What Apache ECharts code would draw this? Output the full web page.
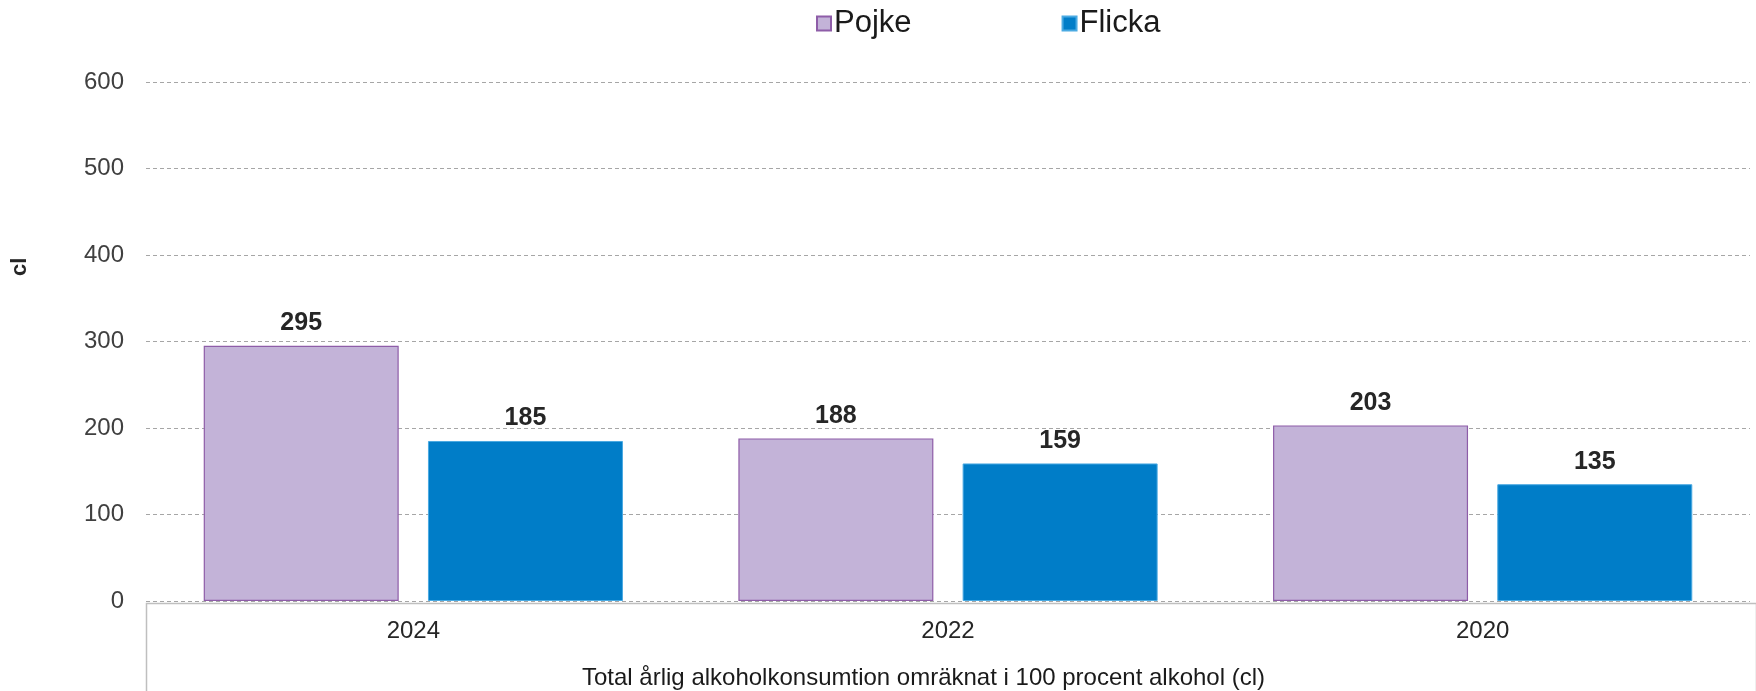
<!DOCTYPE html>
<html>
<head>
<meta charset="utf-8">
<script src="https://cdn.jsdelivr.net/npm/echarts@6/dist/echarts.min.js"></script>
<style>
html, body { margin: 0; padding: 0; background: #fff; }
#chart { width: 1756px; height: 691px; }
</style>
</head>
<body>
<div id="chart"></div>
<script>
var years = ['2024', '2022', '2020'];
var pojke = [295, 188, 203];
var flicka = [185, 159, 135];
var yTicks = [0, 100, 200, 300, 400, 500, 600];

var chartEl = document.getElementById('chart');
var myChart = echarts.init(chartEl);

var gridLeft = 146, gridRight = 6, gridTop = 82, gridBottom = 90;
var font = 'Liberation Sans, Arial, sans-serif';

var option = {
	animation: false,
	textStyle: { fontFamily: font },
	legend: {
		left: 811,
		top: 3,
		icon: 'rect',
		itemWidth: 14,
		itemHeight: 14,
		itemGap: 150,
		textStyle: { fontSize: 31, color: '#1a1a1a', padding: [0, 0, 0, -2] },
		data: ['Pojke', 'Flicka']
	},
	grid: { left: gridLeft, right: gridRight, top: gridTop, bottom: gridBottom },
	xAxis: {
		type: 'category',
		data: years,
		axisLine: { show: false },
		axisTick: { show: false },
		axisLabel: { fontSize: 24, color: '#262626', margin: 18 }
	},
	yAxis: {
		type: 'value',
		min: yTicks[0],
		max: yTicks[yTicks.length - 1],
		interval: 100,
		axisLine: { show: false },
		axisTick: { show: false },
		axisLabel: { fontSize: 24, color: '#404040', margin: 22 },
		splitLine: { lineStyle: { color: '#A6A6A6', type: [4, 3], width: 1 } }
	},
	graphic: [
		{
			type: 'rect',
			left: gridLeft - 2,
			top: 691 - gridBottom,
			shape: { width: 1756 - gridLeft - gridRight + 6, height: 200 },
			style: { fill: 'none', stroke: '#BFBFBF', lineWidth: 1.5 },
			z: 0
		},
		{
			type: 'text',
			left: 582,
			top: 666,
			style: {
				text: 'Total årlig alkoholkonsumtion omräknat i 100 procent alkohol (cl)',
				fontSize: 24,
				fill: '#1a1a1a',
				fontFamily: font
			}
		},
		{
			type: 'text',
			x: 9,
			y: 276,
			rotation: Math.PI / 2,
			style: {
				text: 'cl',
				fontSize: 22,
				fontWeight: 'bold',
				fill: '#262626',
				fontFamily: font
			}
		}
	],
	series: [
		{
			name: 'Pojke',
			type: 'bar',
			data: pojke,
			barWidth: 195,
			barGap: '15%',
			itemStyle: { color: '#C3B3D8', borderColor: '#8E5DA8', borderWidth: 1.2 },
			label: { show: true, position: 'top', distance: 10, fontSize: 25, fontWeight: 'bold', color: '#262626' }
		},
		{
			name: 'Flicka',
			type: 'bar',
			data: flicka,
			barWidth: 195,
			barGap: '15%',
			itemStyle: { color: '#007DC8', borderColor: '#4AAAE2', borderWidth: 1 },
			label: { show: true, position: 'top', distance: 10, fontSize: 25, fontWeight: 'bold', color: '#262626' }
		}
	]
};

myChart.setOption(option);
</script>
</body>
</html>
